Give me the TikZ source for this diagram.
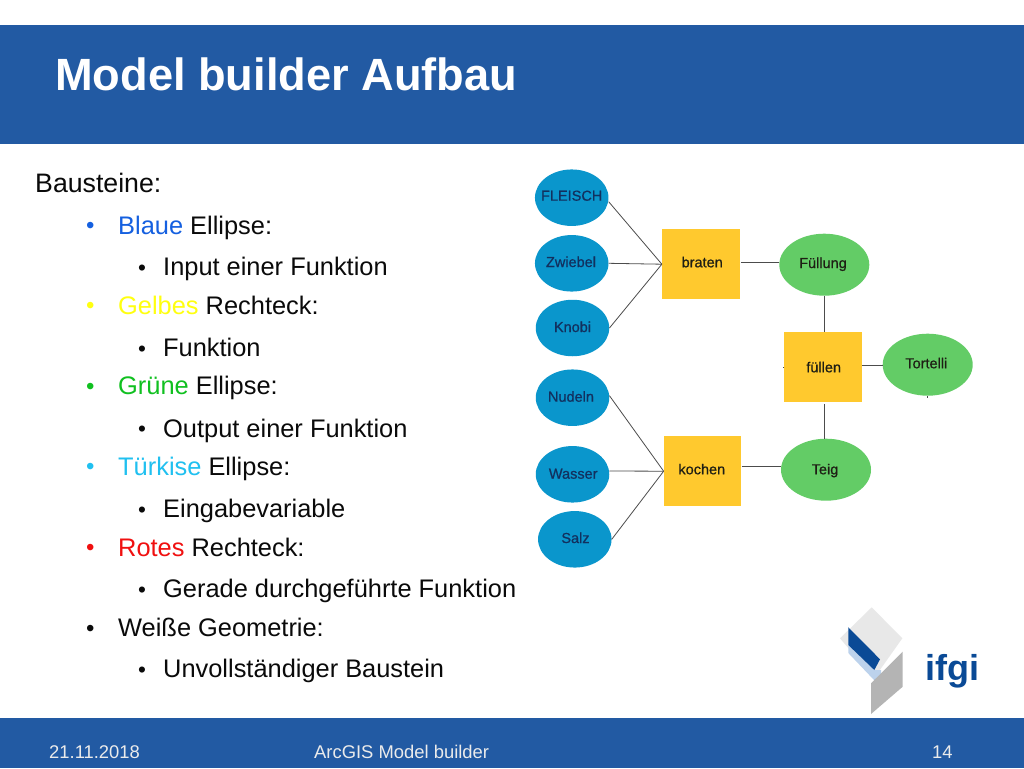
\documentclass[tikz,border=0pt]{standalone}
\usepackage{fontspec}
\usetikzlibrary{shapes.geometric}
\setmainfont{Liberation Sans}
\newfontfamily\lblfont[RawFeature={embolden=0.6}]{Liberation Sans}
\definecolor{band}{HTML}{225AA3}
\definecolor{txt}{HTML}{0A0A0A}
\definecolor{cblue}{HTML}{1560E0}
\definecolor{cyellow}{HTML}{FFFF10}
\definecolor{cgreen}{HTML}{10C020}
\definecolor{ccyan}{HTML}{20C0F0}
\definecolor{cred}{HTML}{F01010}
\definecolor{inblue}{HTML}{0A96CC}
\definecolor{outgreen}{HTML}{63CC66}
\definecolor{fnyellow}{HTML}{FFC92E}
\definecolor{inktxt}{HTML}{12305E}
\definecolor{darktxt}{HTML}{1E1E14}
\definecolor{logoblue}{HTML}{0A4A96}
\definecolor{logolight}{HTML}{BCD2EC}
\definecolor{logogrey}{HTML}{B4B4B4}
\definecolor{logopale}{HTML}{E8E8E8}
% label centred on its node, shifted by dx (given doubled) and dy, without widening the node
\newcommand\lbl[3]{\raisebox{\dimexpr#2-5pt\relax}[0pt][0pt]{\makebox[0pt][c]{\hspace*{#1}#3}}}
\tikzset{
  headtxt/.style={anchor=base west,inner sep=0pt,text=txt,font=\fontsize{26.7}{32}\selectfont},
  bodytxt/.style={anchor=base west,inner sep=0pt,text=txt,font=\fontsize{25.4}{30}\selectfont},
  bigdot/.style={anchor=base west,inner sep=0pt,text=txt,font=\fontsize{24}{28}\selectfont},
  smalldot/.style={anchor=base west,inner sep=0pt,text=txt,font=\fontsize{22.5}{26}\selectfont},
  footer/.style={anchor=base west,inner sep=0pt,text=white!92!black,font=\fontsize{18.4}{22}\selectfont},
  inell/.style={ellipse,fill=inblue,minimum width=73.5pt,minimum height=56.5pt,inner sep=0pt,text=inktxt,font=\lblfont\fontsize{14.5}{16}\selectfont},
  outell/.style={ellipse,fill=outgreen,minimum width=90pt,minimum height=62pt,inner sep=0pt,text=darktxt,font=\lblfont\fontsize{14.5}{16}\selectfont},
  fnbox/.style={rectangle,fill=fnyellow,minimum width=77.5pt,minimum height=70.5pt,inner sep=0pt,text=darktxt,font=\lblfont\fontsize{14.5}{16}\selectfont},
  wire/.style={draw=black!70,line width=0.8pt}
}
\begin{document}
\begin{tikzpicture}[x=1pt,y=-1pt]
\useasboundingbox (0,0) rectangle (1024,768);
\fill[white] (0,0) rectangle (1024,768);
% bands
\fill[band] (0,25) rectangle (1024,143.5);
\fill[band] (0,718) rectangle (1024,768);
\node[anchor=base west,inner sep=0pt,text=white,font=\fontsize{45.2}{54}\selectfont\bfseries] (title) at (55,90) {Model builder Aufbau};
% footer
\node[footer] (fdate) at (49,758) {21.11.2018};
\node[footer] (fname) at (314,758) {ArcGIS Model builder};
\node[footer] (fpage) at (932,758) {14};
% body text
\node[headtxt] (t0) at (35,192.3) {Bausteine:};
\node[bigdot,text=cblue] (b1) at (85.8,233.6) {•};
\node[bodytxt] (t1) at (118,234) {\textcolor{cblue}{Blaue} Ellipse:};
\node[smalldot] (b1a) at (137.8,275) {•};
\node[bodytxt] (t1a) at (163,275.3) {Input einer Funktion};
\node[bigdot,text=cyellow] (b2) at (85.8,313.6) {•};
\node[bodytxt] (t2) at (118,314) {\textcolor{cyellow}{Gelbes} Rechteck:};
\node[smalldot] (b2a) at (137.8,356.4) {•};
\node[bodytxt] (t2a) at (163,356.7) {Funktion};
\node[bigdot,text=cgreen] (b3) at (85.8,394.3) {•};
\node[bodytxt] (t3) at (118,394.7) {\textcolor{cgreen}{Grüne} Ellipse:};
\node[smalldot] (b3a) at (137.8,436.7) {•};
\node[bodytxt] (t3a) at (163,437) {Output einer Funktion};
\node[bigdot,text=ccyan] (b4) at (85.8,474.6) {•};
\node[bodytxt] (t4) at (118,475) {\textcolor{ccyan}{Türkise} Ellipse:};
\node[smalldot] (b4a) at (137.8,517) {•};
\node[bodytxt] (t4a) at (163,517.3) {Eingabevariable};
\node[bigdot,text=cred] (b5) at (85.8,555.6) {•};
\node[bodytxt] (t5) at (118,556) {\textcolor{cred}{Rotes} Rechteck:};
\node[smalldot] (b5a) at (137.8,597) {•};
\node[bodytxt] (t5a) at (163,597.3) {Gerade durchgeführte Funktion};
\node[bigdot] (b6) at (85.8,636.3) {•};
\node[bodytxt] (t6) at (118,636.7) {Weiße Geometrie:};
\node[smalldot] (b6a) at (137.8,677) {•};
\node[bodytxt] (t6a) at (163,677.3) {Unvollständiger Baustein};
% diagram nodes
\node[inell] (fleisch) at (571.7,197.7) {\lbl{0pt}{2pt}{FLEISCH}};
\node[inell] (zwiebel) at (571.7,263.3) {\lbl{-1.4pt}{1.3pt}{Zwiebel}};
\node[inell] (knobi) at (572.5,328) {\lbl{0pt}{1pt}{Knobi}};
\node[inell] (nudeln) at (572.5,397.7) {\lbl{-3pt}{1pt}{Nudeln}};
\node[inell] (wasser) at (572.5,474.3) {\lbl{1.4pt}{0.6pt}{Wasser}};
\node[inell] (salz) at (574.8,539.3) {\lbl{1.4pt}{1.3pt}{Salz}};
\node[fnbox] (braten) at (700.8,264.2) {\lbl{2.8pt}{1.9pt}{braten}};
\node[fnbox] (kochen) at (702.6,471.2) {\lbl{-1.6pt}{1.9pt}{kochen}};
\node[fnbox] (fuellen) at (823.2,367) {\lbl{1pt}{-0.3pt}{füllen}};
\node[outell] (fuellung) at (824.3,264.7) {\lbl{-2.6pt}{1.7pt}{Füllung}};
\node[outell] (teig) at (826,469.7) {\lbl{-2pt}{0.4pt}{Teig}};
\node[outell] (tortelli) at (927.7,364.7) {\lbl{-2.8pt}{1.4pt}{Tortelli}};
% connector ends that sit off the anchors
\coordinate (bratenout) at ([xshift=1pt,yshift=2.2pt]braten.east);
\coordinate (kochenout) at ([yshift=4.5pt]kochen.east);
\coordinate (fuellenout) at ([yshift=1.3pt]fuellen.east);
\coordinate (wasserout) at ([yshift=3.3pt]wasser.east);
\coordinate (fleischout) at ([yshift=-4pt]fleisch.east);
\coordinate (nudelnout) at ([yshift=2pt]nudeln.east);
% connectors
\draw[wire] (fleischout) -- (braten.west);
\draw[wire] (zwiebel.east) -- (braten.west);
\draw[wire] (knobi.east) -- (braten.west);
\draw[wire] (nudelnout) -- (kochen.west);
\draw[wire] (wasserout) -- (kochen.west);
\draw[wire] (salz.east) -- (kochen.west);
\draw[wire] (bratenout) -- (fuellung.west |- bratenout);
\draw[wire] (kochenout) -- (teig.west |- kochenout);
\draw[wire] (fuellung.south) -- (fuellung.south |- fuellen.north);
\draw[wire] ([yshift=-1.5pt]fuellung.south |- fuellen.south) -- (fuellung.south |- teig.north);
\draw[wire] (fuellenout) -- (tortelli.west |- fuellenout);
\draw[wire,line width=0.5pt] (fuellen.west) -- ++(-1.5,0);
\draw[wire,line width=0.5pt] (tortelli.south) -- ++(0,2);
% logo
\fill[logopale] (871.7,607.3) -- (902.3,638.3) -- (874,678.3) -- (840,638.3) -- cycle;
\fill[logolight] (848.3,645) -- (874.3,670) -- (881,670) -- (881,678) -- (874,680) -- (848.3,653) -- cycle;
\fill[logoblue] (848.3,627.3) -- (880,659.3) -- (874.3,670) -- (848.3,645) -- cycle;
\fill[logoblue] (881,675) -- (881,687) -- (874.5,680) -- cycle;
\fill[logogrey] (902.7,651.7) -- (902.7,686.7) -- (871,714) -- (871,683.3) -- cycle;
\node[anchor=base west,inner sep=0pt,text=logoblue,font=\fontsize{36}{40}\selectfont\bfseries] (ifgi) at (925,680) {ifgi};
\end{tikzpicture}
\end{document}
